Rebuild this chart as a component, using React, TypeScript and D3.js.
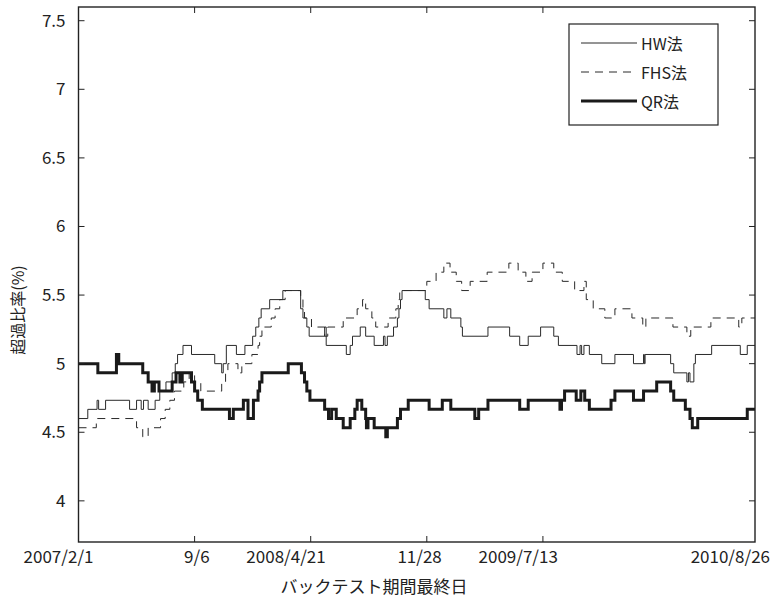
import React, { useEffect, useRef } from 'react';
import * as d3 from 'd3';

// x軸は営業日インデックス (0 = 2007/2/1, 874 = 2010/8/26)
const lastIdx = 874;
const xTickIdx = [0, 150, 300, 450, 600, 874];
const xTickLabels = ['2007/2/1', '9/6', '2008/4/21', '11/28', '2009/7/13', '2010/8/26'];
const yTicks = [4, 4.5, 5, 5.5, 6, 6.5, 7, 7.5];
const yTickLabels = ['4', '4.5', '5', '5.5', '6', '6.5', '7', '7.5'];
const seriesNames = ['HW法', 'FHS法', 'QR法'];

// [開始インデックス, 超過比率(%)]
const hwSteps: [number, number][] = [
  [0, 4.6], [12, 4.667], [24, 4.733], [26, 4.667], [35, 4.733], [66, 4.667], [75, 4.733],
  [81, 4.667], [84, 4.733], [90, 4.667], [99, 4.733], [105, 4.8], [113, 4.867], [121, 4.933],
  [125, 5.0], [128, 5.067], [135, 5.133], [146, 5.067], [176, 5.0], [185, 4.933], [187, 5.0],
  [191, 5.133], [204, 5.067], [215, 5.133], [225, 5.2], [229, 5.267], [233, 5.333], [236, 5.4],
  [247, 5.467], [264, 5.533], [287, 5.4], [290, 5.333], [295, 5.267], [298, 5.2], [318, 5.267],
  [320, 5.133], [346, 5.067], [351, 5.133], [354, 5.2], [364, 5.267], [371, 5.2], [382, 5.133],
  [394, 5.2], [396, 5.133], [399, 5.2], [407, 5.267], [412, 5.333], [414, 5.4], [416, 5.467],
  [418, 5.533], [448, 5.467], [453, 5.4], [472, 5.333], [476, 5.4], [481, 5.333], [494, 5.267],
  [496, 5.2], [529, 5.267], [557, 5.2], [570, 5.133], [581, 5.2], [597, 5.267], [614, 5.2],
  [620, 5.133], [644, 5.067], [648, 5.133], [650, 5.067], [653, 5.133], [660, 5.067], [676, 5.0],
  [693, 5.067], [717, 5.0], [730, 5.067], [731, 5.0], [732, 5.067], [765, 5.0], [769, 4.933],
  [786, 4.867], [788, 4.933], [790, 4.867], [795, 5.0], [797, 5.067], [818, 5.133], [855, 5.067],
  [864, 5.133],
];

const fhsSteps: [number, number][] = [
  [0, 4.533], [23, 4.6], [75, 4.533], [83, 4.467], [90, 4.533], [106, 4.6], [112, 4.667],
  [118, 4.733], [124, 4.8], [136, 4.867], [143, 4.933], [150, 4.867], [158, 4.8], [185, 4.867],
  [190, 4.933], [193, 5.0], [206, 4.933], [211, 5.0], [224, 5.067], [232, 5.133], [234, 5.2],
  [237, 5.267], [249, 5.333], [254, 5.4], [260, 5.467], [267, 5.533], [287, 5.467], [290, 5.4],
  [292, 5.333], [301, 5.267], [318, 5.2], [322, 5.267], [342, 5.333], [360, 5.4], [367, 5.467],
  [371, 5.4], [379, 5.333], [384, 5.267], [400, 5.333], [410, 5.4], [413, 5.467], [415, 5.533],
  [450, 5.6], [462, 5.667], [472, 5.733], [480, 5.667], [488, 5.6], [495, 5.533], [506, 5.6],
  [528, 5.667], [556, 5.733], [568, 5.667], [578, 5.6], [586, 5.667], [600, 5.733], [614, 5.667],
  [625, 5.6], [641, 5.533], [653, 5.6], [656, 5.467], [665, 5.4], [680, 5.333], [693, 5.4],
  [715, 5.333], [729, 5.267], [733, 5.333], [768, 5.267], [786, 5.2], [791, 5.267], [817, 5.333],
  [853, 5.267], [857, 5.333],
];

const qrSteps: [number, number][] = [
  [0, 5.0], [25, 4.933], [49, 5.067], [52, 5.0], [83, 4.933], [90, 4.867], [95, 4.8], [98, 4.867],
  [104, 4.8], [121, 4.867], [126, 4.933], [131, 4.867], [134, 4.933], [146, 4.867], [150, 4.8],
  [154, 4.733], [160, 4.667], [195, 4.6], [200, 4.667], [213, 4.733], [219, 4.6], [226, 4.733],
  [232, 4.8], [234, 4.867], [237, 4.933], [271, 5.0], [288, 4.933], [292, 4.867], [295, 4.8],
  [299, 4.733], [318, 4.667], [323, 4.6], [327, 4.667], [333, 4.6], [342, 4.533], [351, 4.6],
  [357, 4.667], [360, 4.733], [366, 4.667], [371, 4.6], [372, 4.533], [374, 4.6], [382, 4.533],
  [397, 4.467], [399, 4.533], [412, 4.6], [416, 4.667], [426, 4.733], [453, 4.667], [470, 4.733],
  [481, 4.667], [512, 4.6], [517, 4.667], [529, 4.733], [570, 4.667], [581, 4.733], [622, 4.667],
  [624, 4.733], [628, 4.8], [643, 4.733], [649, 4.8], [654, 4.733], [660, 4.667], [688, 4.733],
  [693, 4.8], [717, 4.733], [730, 4.8], [747, 4.867], [765, 4.8], [769, 4.733], [784, 4.667],
  [790, 4.6], [793, 4.533], [800, 4.6], [864, 4.667],
];

const W = 775;
const H = 613;
const margin = { left: 78.5, right: 20, top: 7, bottom: 71 };
const FONT = '"Noto Sans CJK JP", "Noto Sans", sans-serif';

const App: React.FC = () => {
  const svgRef = useRef<SVGSVGElement>(null);

  useEffect(() => {
    if (!svgRef.current) return;
    const svg = d3.select(svgRef.current);
    svg.selectAll('*').remove();

    const x0 = margin.left;
    const x1 = W - margin.right;
    const y0 = margin.top;
    const y1 = H - margin.bottom;

    const x = d3.scaleLinear().domain([0, lastIdx]).range([x0, x1]);
    const y = d3.scaleLinear().domain([3.7, 7.6]).range([y1, y0]);

    const toPoints = (steps: [number, number][]) => {
      const pts = steps.map(([i, v]) => [i, v] as [number, number]);
      pts.push([lastIdx, steps[steps.length - 1][1]]);
      return pts;
    };

    const line = d3.line<[number, number]>()
      .x(d => x(d[0]))
      .y(d => y(d[1]))
      .curve(d3.curveStepAfter);

    const styles = [
      { data: hwSteps, width: 1, dash: null, color: '#2a2a2a' },
      { data: fhsSteps, width: 1, dash: '8,6', color: '#2a2a2a' },
      { data: qrSteps, width: 3, dash: null, color: '#1a1a1a' },
    ];

    const plot = svg.append('g');
    styles.forEach(s => {
      plot.append('path')
        .datum(toPoints(s.data))
        .attr('d', line)
        .attr('fill', 'none')
        .attr('stroke', s.color)
        .attr('stroke-width', s.width)
        .attr('stroke-dasharray', s.dash)
        .attr('stroke-linejoin', 'miter');
    });

    // 枠と内向きの目盛り
    const axisColor = '#222';
    svg.append('rect')
      .attr('x', x0).attr('y', y0)
      .attr('width', x1 - x0).attr('height', y1 - y0)
      .attr('fill', 'none').attr('stroke', axisColor).attr('stroke-width', 1.4);

    const tickLen = 6;
    yTicks.forEach(t => {
      svg.append('line').attr('x1', x0).attr('x2', x0 + tickLen)
        .attr('y1', y(t)).attr('y2', y(t)).attr('stroke', axisColor);
      svg.append('line').attr('x1', x1).attr('x2', x1 - tickLen)
        .attr('y1', y(t)).attr('y2', y(t)).attr('stroke', axisColor);
    });
    xTickIdx.slice(1, -1).forEach(t => {
      svg.append('line').attr('x1', x(t)).attr('x2', x(t))
        .attr('y1', y1).attr('y2', y1 - tickLen).attr('stroke', axisColor);
      svg.append('line').attr('x1', x(t)).attr('x2', x(t))
        .attr('y1', y0).attr('y2', y0 + tickLen).attr('stroke', axisColor);
    });

    svg.append('g').selectAll('text')
      .data(yTicks)
      .enter().append('text')
      .attr('x', x0 - 13)
      .attr('y', d => y(d))
      .attr('dy', '0.35em')
      .attr('text-anchor', 'end')
      .attr('font-family', FONT)
      .attr('font-size', 17)
      .attr('fill', '#222')
      .text((_, i) => yTickLabels[i]);

    svg.append('g').selectAll('text')
      .data(xTickIdx)
      .enter().append('text')
      .attr('x', d => x(d) + 15)
      .attr('y', y1 + 21)
      .attr('text-anchor', 'end')
      .attr('font-family', FONT)
      .attr('font-size', 17)
      .attr('fill', '#222')
      .text((_, i) => xTickLabels[i]);

    svg.append('text')
      .attr('x', 374)
      .attr('y', y1 + 51)
      .attr('text-anchor', 'middle')
      .attr('font-family', FONT)
      .attr('font-size', 17)
      .attr('fill', '#222')
      .text('バックテスト期間最終日');

    svg.append('text')
      .attr('transform', `translate(18, 310) rotate(-90)`)
      .attr('text-anchor', 'middle')
      .attr('dy', '0.35em')
      .attr('font-family', FONT)
      .attr('font-size', 16)
      .attr('fill', '#222')
      .text('超過比率(%)');

    // 凡例
    const lg = svg.append('g').attr('transform', 'translate(569, 24)');
    lg.append('rect')
      .attr('width', 149).attr('height', 101)
      .attr('fill', '#fff').attr('stroke', axisColor).attr('stroke-width', 1.2);
    styles.forEach((s, i) => {
      const ry = 19 + i * 29;
      lg.append('line')
        .attr('x1', 12).attr('x2', 68)
        .attr('y1', ry).attr('y2', ry)
        .attr('stroke', s.color)
        .attr('stroke-width', s.width)
        .attr('stroke-dasharray', s.dash);
      lg.append('text')
        .attr('x', 72).attr('y', ry + 1)
        .attr('dy', '0.35em')
        .attr('font-family', FONT)
        .attr('font-size', 16)
        .attr('fill', '#222')
        .text(seriesNames[i]);
    });
  }, []);

  return (
    <div style={{ position: 'absolute', left: 0, top: 0, width: W, height: H, background: '#fff' }}>
      <svg ref={svgRef} width={W} height={H}></svg>
    </div>
  );
};

export default App;
